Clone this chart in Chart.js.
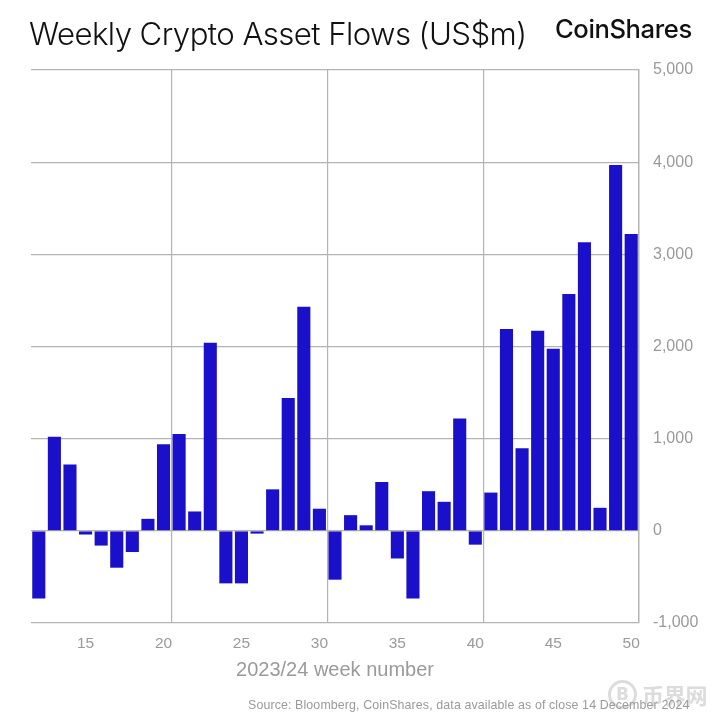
<!DOCTYPE html>
<html><head><meta charset="utf-8">
<style>
html,body{margin:0;padding:0;background:#fff;width:720px;height:722px;overflow:hidden}
#wrap{position:relative;width:720px;height:722px}
canvas{position:absolute;left:0;top:0}
.t{position:absolute;white-space:nowrap}
#title{left:29px;top:15px;font:300 31.2px Inter,"Liberation Sans",sans-serif;color:#111;letter-spacing:-.58px}
#logo{left:555px;top:13px;font:500 25.6px Inter,"Liberation Sans",sans-serif;color:#111;letter-spacing:-.4px}
#source{left:248px;top:698px;font:12.4px "Liberation Sans",sans-serif;color:#9a9a9a;letter-spacing:.12px}
#mark{left:642px;top:678px;font:bold 22px "Noto Sans CJK SC",sans-serif;color:#dcdcdc;letter-spacing:-.3px}
#coin{left:608px;top:680px;width:23px;height:23px;border:3px solid #dcdcdc;border-radius:50%;text-align:center;font:bold 17px/23px "DejaVu Sans",sans-serif;color:#dcdcdc}
</style></head><body>
<div id="wrap">
<canvas id="c" width="720" height="722"></canvas>
<div class="t" id="title">Weekly Crypto Asset Flows (US$m)</div>
<div class="t" id="logo">CoinShares</div>
<div class="t" id="coin">B</div>
<div class="t" id="mark">币界网</div>
<div class="t" id="source">Source: Bloomberg, CoinShares, data available as of close 14 December 2024</div>
</div>
<script src="https://cdn.jsdelivr.net/npm/chart.js@4"></script>
<script>
const weeks=[12,13,14,15,16,17,18,19,20,21,22,23,24,25,26,27,28,29,30,31,32,33,34,35,36,37,38,39,40,41,42,43,44,45,46,47,48,49,50];
const flows=[-735,1020,720,-40,-160,-400,-230,130,940,1050,210,2040,-570,-570,-30,450,1440,2430,240,-530,170,60,530,-300,-735,430,315,1220,-150,415,2190,895,2170,1975,2570,3130,250,3970,3220];
const yTicks=[-1000,0,1000,2000,3000,4000,5000];
const xAxisTitle='2023/24 week number';
const gray='#b4b4b4', labelGray='#9a9a9a';
new Chart(document.getElementById('c'),{
  type:'bar',
  data:{labels:weeks,datasets:[{data:flows,backgroundColor:'#1a10c9',barPercentage:.84,categoryPercentage:1}]},
  options:{
    responsive:false,animation:false,devicePixelRatio:1,
    layout:{padding:{left:31,top:70,right:0,bottom:40}},
    plugins:{legend:{display:false},tooltip:{enabled:false},title:{display:false}},
    scales:{
      x:{
        offset:true,
        grid:{offset:true,drawTicks:false,lineWidth:1.2,
          color:c=>{const w=weeks[c.index];return (w===21||w===31||w===41)?gray:'rgba(0,0,0,0)'}},
        border:{display:false},
        ticks:{autoSkip:false,maxRotation:0,padding:11,color:labelGray,font:{family:'Liberation Sans',size:15.5},
          callback:function(v,i){const w=weeks[i];return w%5===0?String(w):''}},
        title:{display:true,text:xAxisTitle,color:labelGray,font:{family:'Liberation Sans',size:20},padding:{top:3,bottom:0}},
        afterFit:s=>{s.height=59}
      },
      y:{
        position:'right',min:-1000,max:5000,
        afterBuildTicks:s=>{s.ticks=yTicks.map(v=>({value:v}))},
        grid:{color:gray,lineWidth:1.2,drawTicks:false},
        border:{display:true,color:gray,width:1.5},
        ticks:{padding:14,color:labelGray,font:{family:'Liberation Sans',size:16},
          callback:v=>v.toLocaleString('en-US')},
        afterFit:s=>{s.width=81}
      }
    }
  }
});
</script></body></html>
